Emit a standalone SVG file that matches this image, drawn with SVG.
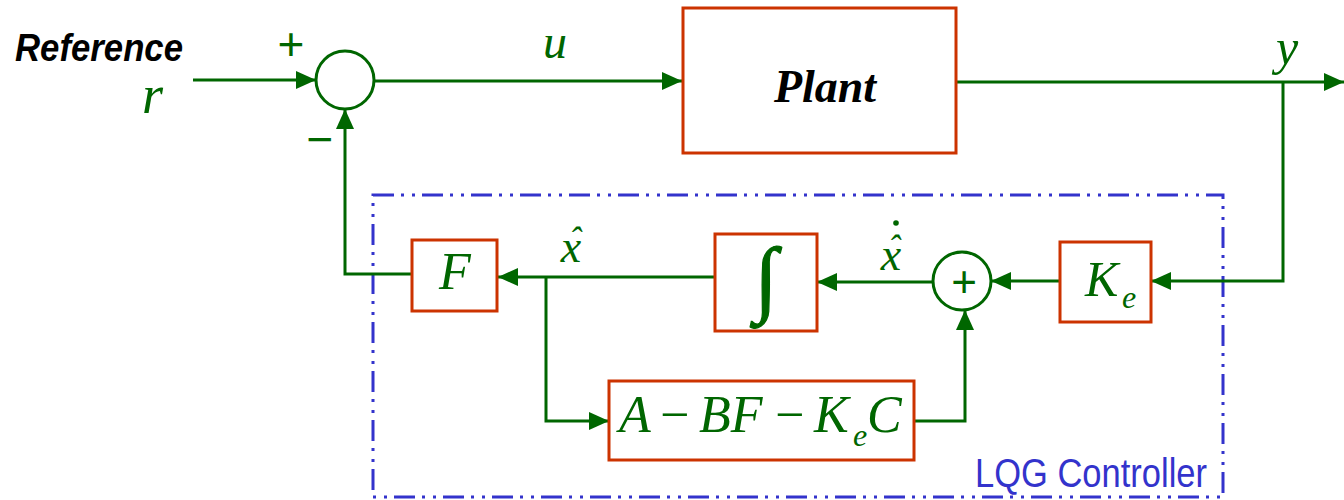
<svg xmlns="http://www.w3.org/2000/svg" width="1344" height="500" viewBox="0 0 1344 500">
<style>
.box{fill:#fff;stroke:#cc3300;stroke-width:3}
.ln{fill:none;stroke:#006600;stroke-width:3}
.sum{fill:#fff;stroke:#006600;stroke-width:3}
.m{font-family:"Liberation Serif",serif;font-style:italic;fill:#006600}
.s{font-family:"Liberation Sans",sans-serif;fill:#006600}
</style>
<defs>
<marker id="arr" viewBox="0 0 20 18" refX="20" refY="9" markerWidth="20" markerHeight="18" orient="auto" markerUnits="userSpaceOnUse">
<path d="M0,0 L20,9 L0,18 z" fill="#006600"/>
</marker>
</defs>
<rect width="1344" height="500" fill="#fff"/>

<g id="lqg-frame">
<rect x="373" y="195" width="850" height="302" fill="none" stroke="#3333cc" stroke-width="3" stroke-dasharray="21 7 3 8 3 7"/>
<text x="975" y="487" font-family="Liberation Sans,sans-serif" font-size="40" fill="#3333cc" textLength="232" lengthAdjust="spacingAndGlyphs">LQG Controller</text>
</g>

<g id="connectors">
<line class="ln" x1="193" y1="80" x2="316" y2="80" marker-end="url(#arr)"/>
<line class="ln" x1="374" y1="81" x2="682" y2="81" marker-end="url(#arr)"/>
<line class="ln" x1="957" y1="82" x2="1344" y2="82" marker-end="url(#arr)"/>
<polyline class="ln" points="1283,82 1283,281 1151,281" marker-end="url(#arr)"/>
<line class="ln" x1="1060" y1="281" x2="991" y2="281" marker-end="url(#arr)"/>
<line class="ln" x1="933" y1="282" x2="817" y2="282" marker-end="url(#arr)"/>
<line class="ln" x1="715" y1="277" x2="498" y2="277" marker-end="url(#arr)"/>
<polyline class="ln" points="412,274 345,274 345,109" marker-end="url(#arr)"/>
<polyline class="ln" points="546,277 546,421 609,421" marker-end="url(#arr)"/>
<polyline class="ln" points="914,421 965,421 965,310" marker-end="url(#arr)"/>
</g>

<g id="labels">
<text x="15" y="61" font-family="Liberation Sans,sans-serif" font-weight="bold" font-style="italic" font-size="38" fill="#000" textLength="168" lengthAdjust="spacingAndGlyphs">Reference</text>
<text class="m" x="142" y="113" font-size="54">r</text>
<text class="s" x="291" y="60" font-size="46" font-weight="300" text-anchor="middle">+</text>
<text class="s" x="320" y="155" font-size="46" text-anchor="middle">−</text>
<text class="m" x="555" y="58" font-size="48" text-anchor="middle">u</text>
<text class="m" x="1287" y="64" font-size="50" text-anchor="middle">y</text>
<text class="m" x="571" y="262" font-size="46" text-anchor="middle">x<tspan x="575" y="252" font-size="36">ˆ</tspan></text>
<text class="m" x="891" y="270" font-size="46" text-anchor="middle">x<tspan x="894" y="260" font-size="36">ˆ</tspan></text>
<circle cx="896" cy="223" r="2.8" fill="#006600"/>
</g>

<g id="sum1">
<circle class="sum" cx="345" cy="80" r="29"/>
</g>

<g id="plant">
<rect class="box" x="683" y="8" width="273" height="145"/>
<text x="825" y="102" font-family="Liberation Serif,serif" font-weight="bold" font-style="italic" font-size="46" text-anchor="middle" fill="#000">Plant</text>
</g>

<g id="Ke">
<rect class="box" x="1060" y="242" width="91" height="80"/>
<text class="m" x="1085" y="296" font-size="50">K</text>
<text class="m" x="1122" y="308" font-size="32">e</text>
</g>

<g id="sum2">
<circle class="sum" cx="962" cy="281" r="29"/>
<text class="s" x="964" y="297" font-size="44" text-anchor="middle">+</text>
</g>

<g id="integrator">
<rect class="box" x="715" y="234" width="102" height="97"/>
<text class="m" x="766" y="306" font-size="84" font-style="normal" text-anchor="middle" stroke="#006600" stroke-width="1.2">∫</text>
</g>

<g id="F">
<rect class="box" x="412" y="240" width="85" height="71"/>
<text class="m" x="455" y="289" font-size="52" text-anchor="middle">F</text>
</g>

<g id="Abox">
<rect class="box" x="609" y="381" width="305" height="79"/>
<text class="m" font-size="52" y="432"><tspan x="619">A</tspan><tspan x="660" font-style="normal">−</tspan><tspan x="699">BF</tspan><tspan x="775" font-style="normal">−</tspan><tspan x="814">K</tspan><tspan x="853" y="446" font-size="32">e</tspan><tspan x="867" y="432">C</tspan></text>
</g>
</svg>
